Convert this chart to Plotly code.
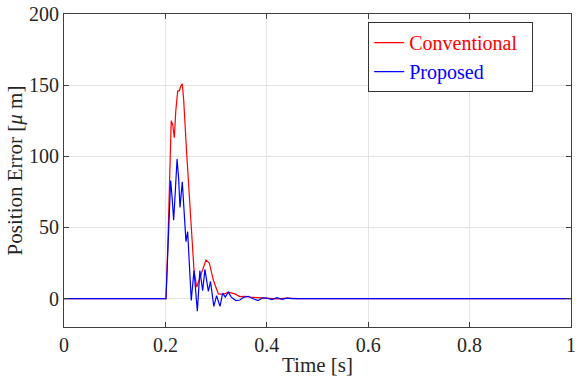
import plotly.graph_objects as go

# Conventional controller position error (time [s], error [um])
conv_t = [0, 0.200, 0.2012, 0.205, 0.209, 0.2115, 0.2145, 0.2176, 0.2205, 0.2243, 0.2275, 0.230,
          0.2333, 0.236, 0.242, 0.250, 0.2564, 0.2617, 0.268, 0.274, 0.280, 0.2866, 0.2945,
          0.3044, 0.314, 0.324, 0.337, 0.347, 0.357, 0.367, 0.380, 0.390, 0.400, 0.420,
          0.440, 0.460, 1.0]
conv_e = [0, 0, 0, 40, 95, 125, 122, 113, 132, 146, 146, 149,
          151, 140, 102, 55, 20, 8, 15, 22, 27, 25, 13,
          3.3, 3, 4.5, 3.3, 1.4, 1.5, 1, 0.8, 0.2, 0.5, -0.3,
          0.3, 0, 0]

# Proposed controller position error
prop_t = [0, 0.200, 0.2012, 0.205, 0.2085, 0.2104, 0.2135, 0.2163, 0.2195, 0.223, 0.226, 0.2288,
          0.2333, 0.237, 0.2406, 0.2439, 0.2475, 0.251, 0.2564, 0.263, 0.268, 0.2735, 0.278,
          0.2847, 0.289, 0.2955, 0.301, 0.3077, 0.313, 0.318, 0.324, 0.330, 0.339, 0.347,
          0.355, 0.3636, 0.372, 0.383, 0.392, 0.400, 0.410, 0.420, 0.430, 0.440, 0.450,
          0.470, 1.0]
prop_e = [0, 0, 0, 35, 72, 83, 70, 55, 75, 98, 85, 64,
          82, 60, 40, 47, 25, -1.4, 19.7, -8.9, 19.7, 5.6, 20.5,
          5, 12, -5.5, 2, -5.5, 3.8, 1, 4.5, 1, -1.4, -1,
          1, 1.6, 0, -1.4, 0.5, 0.3, -0.8, 0.6, -0.5, 0.3, 0,
          0, 0]

x_ticks = [0, 0.2, 0.4, 0.6, 0.8, 1]
x_labels = ["0", "0.2", "0.4", "0.6", "0.8", "1"]
y_ticks = [0, 50, 100, 150, 200]

font_family = "Liberation Serif"
text_color = "#262626"

fig = go.Figure()
fig.add_trace(go.Scatter(x=conv_t, y=conv_e, mode="lines",
                         name="<span style='color:#ff0000'>Conventional</span>&nbsp;&nbsp;",
                         line=dict(color="#ff0000", width=1.2)))
fig.add_trace(go.Scatter(x=prop_t, y=prop_e, mode="lines",
                         name="<span style='color:#0000ff'>Proposed</span>",
                         line=dict(color="#0000ff", width=1.2)))

axis_common = dict(showgrid=True, gridcolor="#e3e3e3", gridwidth=1,
                   showline=True, linecolor="#404040", linewidth=1, mirror="ticks",
                   ticks="inside", ticklen=5, tickcolor="#404040", automargin=False,
                   zeroline=False, tickfont=dict(family=font_family, size=20, color=text_color))

fig.update_xaxes(range=[0, 1], tickvals=x_ticks, ticktext=x_labels,
                 title=dict(text="Time [s]", font=dict(family=font_family, size=21, color=text_color),
                            standoff=2),
                 **axis_common)
fig.update_yaxes(range=[-20, 200], tickvals=y_ticks,
                 title=dict(text="Position Error [<i>μ</i> m]",
                            font=dict(family=font_family, size=21, color=text_color), standoff=0),
                 **axis_common)

fig.update_layout(
    width=576, height=380,
    margin=dict(l=64, r=5, t=14, b=53),
    paper_bgcolor="white", plot_bgcolor="white",
    font=dict(family=font_family, size=20, color=text_color),
    legend=dict(x=0.6, y=0.974, xanchor="left", yanchor="top",
                bgcolor="white", bordercolor="#333333", borderwidth=1,
                font=dict(family=font_family, size=20)),
    showlegend=True,
)

fig.write_html("out.html")
